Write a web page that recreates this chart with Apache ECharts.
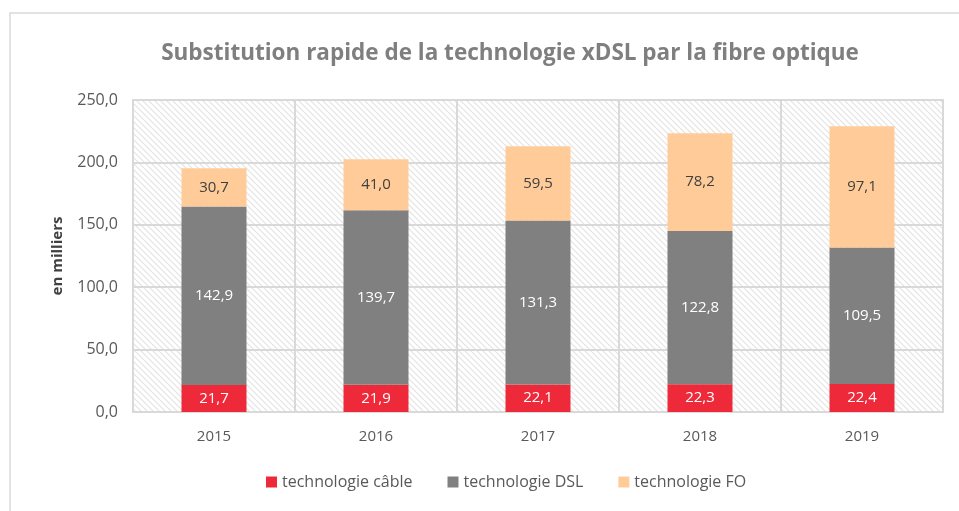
<!DOCTYPE html>
<html><head><meta charset="utf-8">
<script src="https://cdn.jsdelivr.net/npm/echarts@6/dist/echarts.min.js"></script>
<style>html,body{margin:0;padding:0;background:#fff}#c{width:959px;height:511px}</style>
</head><body><div id="c"></div>
<script>
const years = ['2015','2016','2017','2018','2019'];
const cable = [21.7, 21.9, 22.1, 22.3, 22.4];
const dsl = [142.9, 139.7, 131.3, 122.8, 109.5];
const fo = [30.7, 41.0, 59.5, 78.2, 97.1];
const seriesNames = ['technologie câble', 'technologie DSL', 'technologie FO'];
const titleText = 'Substitution rapide de la technologie xDSL par la fibre optique';
const yName = 'en milliers';

const FONT = 'Open Sans';
// hatch pattern
const P = 6;
const pc = document.createElement('canvas');
pc.width = P; pc.height = P;
const g = pc.getContext('2d');
g.fillStyle = '#fff'; g.fillRect(0,0,P,P);
g.strokeStyle = '#e2e2e2'; g.lineWidth = 1.1;
g.beginPath();
for (let k = -P; k <= P; k += P) { g.moveTo(k - 1, -1); g.lineTo(k + P + 1, P + 1); }
g.stroke();

const fmt = v => v.toFixed(1).replace('.', ',');
const chart = echarts.init(document.getElementById('c'));
const mk = (name, data, color, labColor) => ({
  name, type: 'bar', stack: 't', data, barWidth: 65,
  itemStyle: { color },
  label: { show: true, position: 'inside', color: labColor, fontFamily: FONT, fontSize: 15,
    formatter: p => fmt(p.value) }
});
chart.setOption({
  animation: false,
  graphic: [{ type: 'rect', shape: { x: 10, y: 13, width: 960, height: 520 },
    style: { fill: 'none', stroke: '#d9d9d9', lineWidth: 1.5 }, z: -10 }],
  title: { text: titleText, left: 505, top: 37, textAlign: 'center',
    textStyle: { fontFamily: FONT, fontWeight: 'bold', fontSize: 22.5, color: '#7f7f7f' } },
  grid: { left: 133, right: 16, top: 100, bottom: 99, show: true,
    backgroundColor: { image: pc, repeat: 'repeat' }, borderColor: '#d9d9d9', borderWidth: 2 },
  legend: { bottom: 16, left: 261, itemWidth: 11, itemHeight: 11, itemGap: 35,
    icon: 'rect', textStyle: { fontFamily: FONT, fontSize: 16, color: '#595959' },
    data: seriesNames },
  xAxis: { type: 'category', data: years,
    axisLine: { show: true, lineStyle: { color: '#d9d9d9', width: 2 } },
    axisTick: { show: false },
    splitLine: { show: true, lineStyle: { color: '#d9d9d9', width: 2 } },
    axisLabel: { fontFamily: FONT, fontSize: 15, color: '#595959', margin: 17 } },
  yAxis: { type: 'value', min: 0, max: 250, interval: 50,
    name: yName, nameLocation: 'middle', nameGap: 68, nameRotate: 90,
    nameTextStyle: { fontFamily: FONT, fontWeight: 'bold', fontSize: 15, color: '#404040' },
    axisLine: { show: false }, axisTick: { show: false },
    splitLine: { lineStyle: { color: '#d9d9d9', width: 2 } },
    axisLabel: { fontFamily: FONT, fontSize: 16, color: '#595959', margin: 15, formatter: fmt } },
  series: [
    mk(seriesNames[0], cable, '#ee2a3a', '#ffffff'),
    mk(seriesNames[1], dsl, '#808080', '#ffffff'),
    mk(seriesNames[2], fo, '#ffcc99', '#404040')
  ]
});
</script></body></html>
